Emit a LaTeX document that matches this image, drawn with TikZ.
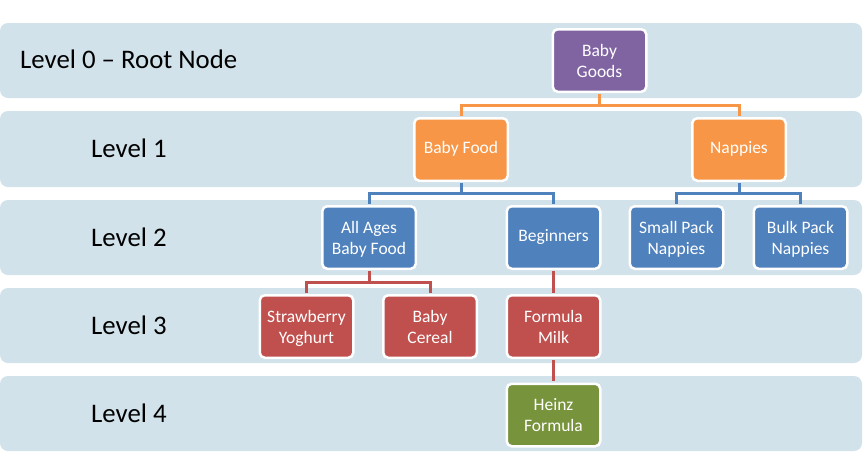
\documentclass[tikz,border=0pt]{standalone}
\usepackage{fontspec}
\setmainfont{Carlito}
\definecolor{bandcol}{HTML}{D1E2EA}
\definecolor{cpurple}{HTML}{8064A2}
\definecolor{corange}{HTML}{F79646}
\definecolor{cblue}{HTML}{4F81BD}
\definecolor{cred}{HTML}{C0504D}
\definecolor{cgreen}{HTML}{77933C}
\newcommand\mytopstrut{\rule{0pt}{19pt}}
\newcommand\mybotstrut{\rule[-6.3pt]{0pt}{6.3pt}}
\begin{document}
\begin{tikzpicture}[x=1pt,y=-1pt,
  band/.style={fill=bandcol, rounded corners=8pt},
  box/.style={draw=white, line width=2.5pt, rounded corners=5pt, minimum width=93.5pt, minimum height=62.5pt, text=white, font=\fontsize{17.5}{21}\selectfont, align=center, inner sep=0pt},
  lvl/.style={anchor=west, font=\fontsize{26.8}{30}\selectfont, inner sep=0pt},
  conn/.style={line width=3pt, shorten <=1.2pt, shorten >=1.2pt}]
\useasboundingbox (0,0) rectangle (864,475);
% bands
\fill[band] (0,23) rectangle (862,98);
\fill[band] (0,111) rectangle (862,187);
\fill[band] (0,200) rectangle (862,275);
\fill[band] (0,288) rectangle (862,363);
\fill[band] (0,376) rectangle (862,451);
% level labels
\node[lvl] (l0) at (20,59.5) {Level 0 -- Root Node};
\node[lvl] (l1) at (91,148) {Level 1};
\node[lvl] (l2) at (91,237) {Level 2};
\node[lvl] (l3) at (91,325) {Level 3};
\node[lvl] (l4) at (91,413) {Level 4};
% nodes
\node[box, fill=cpurple] (goods) at (599.5,60.5) {\mytopstrut Baby\\Goods\mybotstrut};
\node[box, fill=corange] (food) at (461,149.5) {\strut Baby Food};
\node[box, fill=corange] (napp) at (739,149.5) {\strut Nappies};
\node[box, fill=cblue] (allages) at (369,237.5) {\mytopstrut All Ages\\Baby Food\mybotstrut};
\node[box, fill=cblue] (begin) at (553.5,237.5) {\strut Beginners};
\node[box, fill=cblue] (small) at (676.5,237.5) {\mytopstrut Small Pack\\Nappies\mybotstrut};
\node[box, fill=cblue] (bulk) at (800.5,237.5) {\mytopstrut Bulk Pack\\Nappies\mybotstrut};
\node[box, fill=cred] (straw) at (306.5,326.5) {\mytopstrut Strawberry\\Yoghurt\mybotstrut};
\node[box, fill=cred] (cereal) at (430,326.5) {\mytopstrut Baby\\Cereal\mybotstrut};
\node[box, fill=cred] (milk) at (553.5,326.5) {\mytopstrut Formula\\Milk\mybotstrut};
\node[box, fill=cgreen] (heinz) at (553.5,415) {\mytopstrut Heinz\\Formula\mybotstrut};
% bus coordinates
\coordinate (bus0) at (0,105);
\coordinate (bus1) at (0,193);
\coordinate (bus2) at (0,282);
% connectors
\draw[conn, corange] (goods.south) -- (goods.south |- bus0) -| (food.north);
\draw[conn, corange] (goods.south) -- (goods.south |- bus0) -| (napp.north);
\draw[conn, cblue] (food.south) -- (food.south |- bus1) -| (allages.north);
\draw[conn, cblue] (food.south) -- (food.south |- bus1) -| (begin.north);
\draw[conn, cblue] (napp.south) -- (napp.south |- bus1) -| (small.north);
\draw[conn, cblue] (napp.south) -- (napp.south |- bus1) -| (bulk.north);
\draw[conn, cred] (allages.south) -- (allages.south |- bus2) -| (straw.north);
\draw[conn, cred] (allages.south) -- (allages.south |- bus2) -| (cereal.north);
\draw[conn, cred] (begin.south) -- (milk.north);
\draw[conn, cred] (milk.south) -- (heinz.north);
\end{tikzpicture}
\end{document}
